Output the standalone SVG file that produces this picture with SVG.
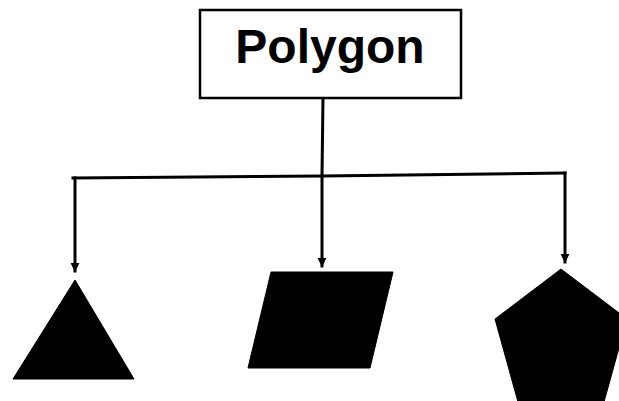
<svg xmlns="http://www.w3.org/2000/svg" width="619" height="401" viewBox="0 0 619 401">
  <defs>
    <style>
      .box { fill: #ffffff; stroke: #000000; stroke-width: 2.5; }
      .label { font-family: "Liberation Sans", Arial, sans-serif; font-weight: bold; font-size: 48px; fill: #000000; }
      .conn { fill: none; stroke: #000000; stroke-width: 3; stroke-linecap: square; }
      .shape { fill: #000000; stroke: #000000; stroke-width: 1; stroke-linejoin: round; }
    </style>
    <marker id="arrow" viewBox="0 0 10 10" refX="9" refY="5" markerWidth="3" markerHeight="3.3" orient="auto" markerUnits="strokeWidth">
      <path d="M0,0 L10,5 L0,10 z" fill="#000000"/>
    </marker>
  </defs>
  <rect width="619" height="401" fill="#ffffff"/>

  <g id="connectors">
    <line class="conn" x1="323" y1="98" x2="322" y2="176"/>
    <polyline class="conn" points="73,178 322,176 565,173"/>
    <line class="conn" x1="75" y1="178" x2="75" y2="271" marker-end="url(#arrow)"/>
    <line class="conn" x1="322" y1="176" x2="322" y2="266" marker-end="url(#arrow)"/>
    <line class="conn" x1="565" y1="173" x2="565" y2="262" marker-end="url(#arrow)"/>
  </g>

  <g id="node-polygon">
    <rect class="box" x="200" y="10" width="261" height="88"/>
    <text class="label" x="330" y="63" text-anchor="middle">Polygon</text>
  </g>

  <g id="node-triangle">
    <polygon class="shape" points="75,280 134,379 13,379"/>
  </g>

  <g id="node-parallelogram">
    <polygon class="shape" points="271,272 393,272 370,368 248,368"/>
  </g>

  <g id="node-pentagon">
    <polygon class="shape" points="561,269 627,319 604,402 518,402 495,319"/>
  </g>
</svg>
